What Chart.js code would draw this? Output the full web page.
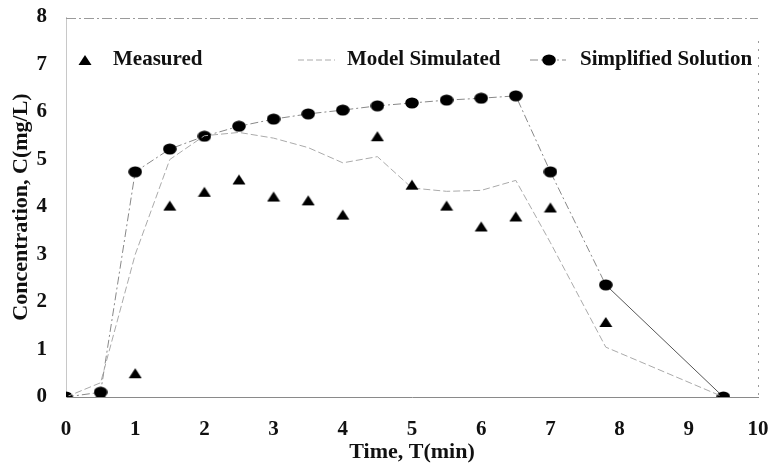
<!DOCTYPE html>
<html lang="en">
<head>
    <meta charset="UTF-8">
    <title>Concentration vs Time</title>
    <script src="https://cdn.jsdelivr.net/npm/chart.js@4.4.1/dist/chart.umd.min.js"></script>
    <style>
        body { margin: 0; background: #fff; }
        #wrap { width: 773px; height: 466px; }
    </style>
</head>
<body>
    <div id="wrap"><canvas id="chart" width="773" height="466"></canvas></div>
    <script>
        // time points (min) shared by all three series
        const times = [0, 0.5, 1, 1.5, 2, 2.5, 3, 3.5, 4, 4.5, 5, 5.5, 6, 6.5, 7, 7.8, 9.5];
        const measured = [0, 0.05, 0.5, 4.03, 4.32, 4.58, 4.22, 4.14, 3.84, 5.49, 4.47, 4.03, 3.59, 3.8, 3.99, 1.58, 0];
        const modelSimulated = [0, 0.3, 3.0, 5.0, 5.5, 5.57, 5.45, 5.25, 4.93, 5.06, 4.4, 4.33, 4.35, 4.56, 3.25, 1.05, 0];
        const simplified = [0, 0.1, 4.74, 5.22, 5.49, 5.7, 5.85, 5.96, 6.04, 6.13, 6.19, 6.25, 6.29, 6.34, 4.74, 2.36, 0];
        const xTicks = [0, 1, 2, 3, 4, 5, 6, 7, 8, 9, 10];
        const yTicks = [0, 1, 2, 3, 4, 5, 6, 7, 8];

        const serif = '"Liberation Serif", "Times New Roman", serif';
        const pts = arr => arr.map((v, i) => ({ x: times[i], y: v }));

        // marker images: slightly squashed dot and flat triangle, as in the scan
        function makeDot() {
            const c = document.createElement('canvas');
            c.width = 14; c.height = 12;
            const g = c.getContext('2d');
            g.fillStyle = '#000';
            g.beginPath();
            g.ellipse(7, 6, 6.8, 5.5, 0, 0, Math.PI * 2);
            g.fill();
            return c;
        }
        function makeTri() {
            const c = document.createElement('canvas');
            c.width = 14; c.height = 12;
            const g = c.getContext('2d');
            g.fillStyle = '#000';
            g.beginPath();
            g.moveTo(0.5, 11);
            g.lineTo(13.5, 11);
            g.lineTo(7, 1);
            g.closePath();
            g.fill();
            return c;
        }
        const dot = makeDot();
        const tri = makeTri();

        // dashed frame on top and right like the original
        const framePlugin = {
            id: 'frame',
            afterDraw(chart) {
                const { ctx, chartArea: a } = chart;
                ctx.save();
                ctx.strokeStyle = '#9a9a9a';
                ctx.lineWidth = 1;
                ctx.setLineDash([10, 3, 2, 3]);
                ctx.beginPath();
                ctx.moveTo(a.left, a.top + 1.5);
                ctx.lineTo(a.right, a.top + 1.5);
                ctx.stroke();
                ctx.setLineDash([2, 6]);
                ctx.beginPath();
                ctx.moveTo(a.right + 0.5, a.top + 24);
                ctx.lineTo(a.right + 0.5, a.bottom);
                ctx.stroke();
                ctx.restore();
            }
        };

        // legend drawn inside the plot, one row
        const legendPlugin = {
            id: 'insideLegend',
            afterDraw(chart) {
                const { ctx, chartArea: a } = chart;
                const y = a.top + 43;
                const ds = chart.data.datasets;
                ctx.save();
                ctx.font = 'bold 21px ' + serif;
                ctx.fillStyle = '#111';
                ctx.textBaseline = 'middle';

                ctx.drawImage(tri, a.left + 12, y - 6);
                ctx.fillText(ds[0].label, a.left + 47, y);

                ctx.strokeStyle = '#aaa';
                ctx.lineWidth = 1;
                ctx.setLineDash([6, 3]);
                ctx.beginPath();
                ctx.moveTo(a.left + 232, y);
                ctx.lineTo(a.left + 269, y);
                ctx.stroke();
                ctx.fillText(ds[1].label, a.left + 281, y);

                ctx.strokeStyle = '#888';
                ctx.setLineDash([8, 3, 2, 3]);
                ctx.beginPath();
                ctx.moveTo(a.left + 464, y);
                ctx.lineTo(a.left + 500, y);
                ctx.stroke();
                ctx.drawImage(dot, a.left + 476, y - 6);
                ctx.fillText(ds[2].label, a.left + 514, y);
                ctx.restore();
            }
        };

        new Chart(document.getElementById('chart'), {
            type: 'scatter',
            data: {
                datasets: [
                    {
                        label: 'Measured',
                        data: pts(measured),
                        showLine: false,
                        pointStyle: tri,
                        pointRadius: 7
                    },
                    {
                        label: 'Model Simulated',
                        data: pts(modelSimulated),
                        showLine: true,
                        pointRadius: 0,
                        borderColor: '#aaa',
                        borderWidth: 1,
                        borderDash: [7, 3]
                    },
                    {
                        label: 'Simplified Solution',
                        data: pts(simplified),
                        showLine: true,
                        pointStyle: dot,
                        pointRadius: 7,
                        borderColor: '#888',
                        borderWidth: 1,
                        borderDash: [8, 3, 2, 3],
                        segment: {
                            borderDash: c => c.p0DataIndex === times.length - 2 ? [] : undefined,
                            borderColor: c => c.p0DataIndex === times.length - 2 ? '#555' : undefined
                        }
                    }
                ]
            },
            options: {
                responsive: false,
                animation: false,
                layout: { padding: { left: 8, right: 15, top: 17, bottom: 0 } },
                plugins: {
                    legend: { display: false },
                    tooltip: { enabled: false }
                },
                scales: {
                    x: {
                        type: 'linear',
                        min: 0,
                        max: 10,
                        afterBuildTicks: s => { s.ticks = xTicks.map(v => ({ value: v })); },
                        afterFit: s => { s.height = 69; s.paddingLeft = 0; s.paddingRight = 0; },
                        grid: { display: false, drawTicks: false },
                        border: { display: true, color: '#8a8a8a', width: 1 },
                        ticks: {
                            color: '#111',
                            padding: 20,
                            font: { family: serif, size: 21, weight: 'bold' }
                        },
                        title: {
                            display: true,
                            text: 'Time, T(min)',
                            color: '#111',
                            padding: { top: 0, bottom: 0 },
                            font: { family: serif, size: 22, weight: 'bold' }
                        }
                    },
                    y: {
                        min: 0,
                        max: 8,
                        afterBuildTicks: s => { s.ticks = yTicks.map(v => ({ value: v })); },
                        afterFit: s => { s.width = 58; s.paddingTop = 0; s.paddingBottom = 0; },
                        grid: { display: false, drawTicks: false },
                        border: { display: true, color: '#c8c8c8', width: 1, dash: [2, 6] },
                        ticks: {
                            color: '#111',
                            padding: 19,
                            font: { family: serif, size: 21, weight: 'bold' }
                        },
                        title: {
                            display: true,
                            text: 'Concentration, C(mg/L)',
                            color: '#111',
                            padding: { top: 0, bottom: 0 },
                            font: { family: serif, size: 22, weight: 'bold' }
                        }
                    }
                }
            },
            plugins: [framePlugin, legendPlugin]
        });
    </script>
</body>
</html>
